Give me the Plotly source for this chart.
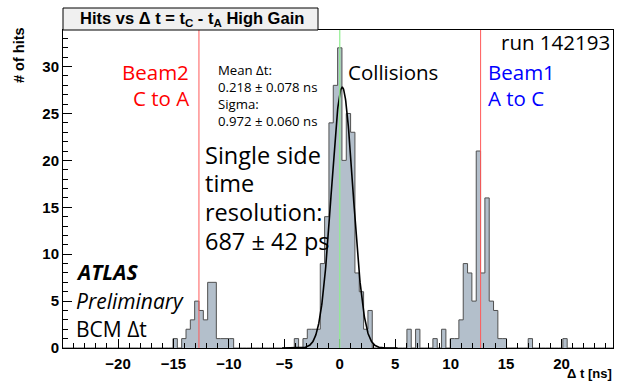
import numpy as np
import plotly.graph_objects as go

# ---------------- data ----------------
BIN_WIDTH_NS = 25.0 / 64.0          # BCM time bin
# bin index k -> bin centred at k * BIN_WIDTH_NS
bin_index = [-38, -36, -35, -34, -33, -32, -31, -30, -29, -28, -27, -26, -25,
             -10, -8, -7, -6, -5, -4, -3, -2, -1, 0, 1, 2, 3, 4, 5, 6, 7,
             16, 18, 22, 24, 26, 27, 28, 29, 30, 31, 32, 33, 34, 35, 36, 37, 38,
             44, 52]
hits = [1, 1, 2, 3, 5, 4, 3, 7, 7, 1, 1, 1, 1,
        1, 1, 2, 2, 2, 9, 14, 24, 28, 32, 20, 25, 23, 8, 6, 2, 4,
        2, 2, 1, 2, 1, 1, 3, 9, 8, 5, 21, 8, 16, 5, 4, 1, 1,
        1, 1]

fit_mean = 0.218
fit_sigma = 0.972
fit_amplitude = 27.8
fit_range = [-5.2, 5.2]

beam_lines_ns = [-12.7, 12.7]
collision_line_ns = 0.0

x_range = [-24.96, 24.64]
y_range = [0, 33.9]

# ---------------- build histogram contour ----------------
kmin, kmax = -64, 64
edges = (np.arange(kmin, kmax + 2) - 0.5) * BIN_WIDTH_NS
counts = np.zeros(kmax - kmin + 1)
for k, h in zip(bin_index, hits):
    counts[k - kmin] = h
step_x = edges
step_y = np.append(counts, counts[-1])

fig = go.Figure()
fig.add_trace(go.Scatter(
    x=step_x, y=step_y, mode="lines", line_shape="hv",
    line=dict(color="#505050", width=1),
    fill="tozeroy", fillcolor="#b3bfcb", hoverinfo="skip"))

# Gaussian fit curve (from fit parameters)
xf = np.linspace(fit_range[0], fit_range[1], 400)
yf = fit_amplitude * np.exp(-0.5 * ((xf - fit_mean) / fit_sigma) ** 2)
fig.add_trace(go.Scatter(x=xf, y=yf, mode="lines",
                         line=dict(color="black", width=1.6), hoverinfo="skip"))

# vertical marker lines
for xv in beam_lines_ns:
    fig.add_shape(type="line", x0=xv, x1=xv, y0=0, y1=1, yref="paper",
                  line=dict(color="#ff5a5a", width=1))
fig.add_shape(type="line", x0=collision_line_ns, x1=collision_line_ns, y0=0, y1=1,
              yref="paper", line=dict(color="#90ee90", width=1.2))

# ---------------- layout ----------------
L, R, T, B = 63, 9, 30, 33
W, H = 622, 381
PW, PH = W - L - R, H - T - B


def px(x):
    return (x - L) / PW


def py(y):
    return (H - B - y) / PH


axis_font = dict(family="Liberation Sans", size=15, color="black", weight="bold")

fig.update_layout(
    width=W, height=H, margin=dict(l=L, r=R, t=T, b=B),
    paper_bgcolor="white", plot_bgcolor="white", showlegend=False,
    xaxis=dict(range=x_range, showgrid=False, zeroline=False,
               showline=True, linecolor="black", linewidth=1, mirror=True,
               ticks="inside", ticklen=9, tickcolor="black", tickwidth=1,
               tick0=0, dtick=5, tickfont=axis_font, ticklabelstandoff=2,
               minor=dict(ticks="inside", ticklen=5, dtick=1, tickcolor="black", showgrid=False)),
    yaxis=dict(range=y_range, showgrid=False, zeroline=False,
               showline=True, linecolor="black", linewidth=1, mirror=True,
               ticks="inside", ticklen=9, tickcolor="black", tickwidth=1,
               tick0=0, dtick=5, tickfont=axis_font,
               minor=dict(ticks="inside", ticklen=5, dtick=1, tickcolor="black", showgrid=False)),
)

# title box
fig.add_shape(type="rect", xref="paper", yref="paper",
              x0=px(63), x1=px(318), y0=py(30), y1=py(8),
              fillcolor="#f0f0f0", line=dict(color="black", width=1), layer="above")
fig.add_annotation(xref="paper", yref="paper", x=px(192), y=py(19),
                   text="Hits vs Δ t = t<sub>C</sub> - t<sub>A</sub> High Gain",
                   showarrow=False, xanchor="center", yanchor="middle",
                   font=dict(family="Liberation Sans", size=16.5, color="black", weight="bold"))

# axis titles
fig.add_annotation(xref="paper", yref="paper", x=px(19), y=py(55), text="# of hits",
                   textangle=-90, showarrow=False, xanchor="center", yanchor="middle",
                   font=dict(family="Liberation Sans", size=14.5, color="black", weight="bold"))
fig.add_annotation(xref="paper", yref="paper", x=px(614), y=py(373), text="Δ t [ns]",
                   showarrow=False, xanchor="right", yanchor="middle",
                   font=dict(family="Liberation Sans", size=13, color="black", weight="bold"))

TF = "Open Sans"


def label(text, x, y, size, color="black", xanchor="left", **fk):
    fig.add_annotation(xref="paper", yref="paper", x=px(x), y=py(y), text=text,
                       showarrow=False, xanchor=xanchor, yanchor="middle",
                       align=xanchor if xanchor in ("left", "right") else "center",
                       font=dict(family=TF, size=size, color=color, **fk))


label("run 142193", 612, 42, 20.5, xanchor="right")
label("Beam2", 191, 72, 20.5, color="#ff0000", xanchor="right")
label("C to A", 191, 98, 20.5, color="#ff0000", xanchor="right")
label("Beam1", 486, 72, 20.5, color="#0000ff")
label("A to C", 486, 98, 20.5, color="#0000ff")
label("Collisions", 346, 72, 20.5)

for i, t in enumerate(["Mean Δt:", "0.218 ± 0.078 ns", "Sigma:", "0.972 ± 0.060 ns"]):
    label(t, 216, 70 + i * 17, 13.2)

for i, t in enumerate(["Single side", "time", "resolution:", "687 ± 42 ps"]):
    label(t, 203, 155 + i * 28.5, 23.5)

label("<b><i>ATLAS</i></b>", 74, 272, 21)
label("<i>Preliminary</i>", 74, 301, 21)
label("BCM Δt", 74, 329, 21)

fig.write_html("out.html")
